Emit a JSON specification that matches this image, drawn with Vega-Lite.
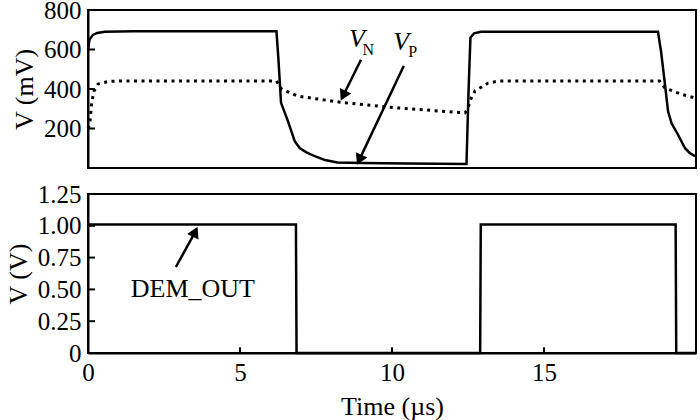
{
  "$schema": "https://vega.github.io/schema/vega-lite/v6.json",
  "padding": {"left": 4, "top": -3, "right": 0, "bottom": 0},
  "background": "white",
  "spacing": 26,
  "bounds": "flush",
  "config": {
    "view": {"stroke": "black", "strokeWidth": 2},
    "font": "Times New Roman",
    "axis": {
      "labelFont": "Times New Roman", "labelFontSize": 25, "labelColor": "black",
      "titleFont": "Times New Roman", "titleFontSize": 26, "titleFontWeight": "normal", "titleColor": "black",
      "ticks": false, "labelPadding": 7, "labelOverlap": false,
      "domainColor": "black", "domainWidth": 2, "grid": false
    }
  },
  "datasets": {
    "vp": [
      {"t": 0, "v": 600}, {"t": 0.05, "v": 650}, {"t": 0.16, "v": 674}, {"t": 0.3, "v": 684}, {"t": 0.55, "v": 690},
      {"t": 1.5, "v": 692}, {"t": 6.2, "v": 692}, {"t": 6.26, "v": 560}, {"t": 6.35, "v": 330}, {"t": 6.58, "v": 236},
      {"t": 6.8, "v": 136}, {"t": 6.97, "v": 100}, {"t": 7.2, "v": 78}, {"t": 7.46, "v": 60}, {"t": 7.8, "v": 40},
      {"t": 8.2, "v": 28}, {"t": 9, "v": 25}, {"t": 10.5, "v": 23}, {"t": 12.45, "v": 20}, {"t": 12.52, "v": 400},
      {"t": 12.58, "v": 660}, {"t": 12.7, "v": 682}, {"t": 12.93, "v": 690}, {"t": 18.75, "v": 690}, {"t": 18.85, "v": 590},
      {"t": 18.98, "v": 422}, {"t": 19.08, "v": 287}, {"t": 19.2, "v": 225}, {"t": 19.4, "v": 171}, {"t": 19.64, "v": 100},
      {"t": 19.8, "v": 75}, {"t": 19.97, "v": 60}
    ],
    "vn": [
      {"t": 0, "v": 200}, {"t": 0.06, "v": 221}, {"t": 0.12, "v": 330}, {"t": 0.2, "v": 390}, {"t": 0.33, "v": 425},
      {"t": 0.66, "v": 438}, {"t": 1.2, "v": 441}, {"t": 6.2, "v": 441}, {"t": 6.36, "v": 400}, {"t": 6.9, "v": 364},
      {"t": 7.57, "v": 349}, {"t": 8.45, "v": 330}, {"t": 10.2, "v": 304}, {"t": 12.4, "v": 279}, {"t": 12.5, "v": 300},
      {"t": 12.56, "v": 340}, {"t": 12.73, "v": 390}, {"t": 13.16, "v": 430}, {"t": 13.5, "v": 440}, {"t": 18.8, "v": 440},
      {"t": 18.98, "v": 405}, {"t": 19.5, "v": 374}, {"t": 19.97, "v": 355}
    ],
    "dem": [
      {"t": 0, "v": 1.01}, {"t": 6.84, "v": 1.01}, {"t": 6.86, "v": 0}, {"t": 12.9, "v": 0}, {"t": 12.92, "v": 1.01},
      {"t": 19.33, "v": 1.01}, {"t": 19.35, "v": 0}, {"t": 20, "v": 0}
    ],
    "arrowsTop": [
      {"x1": 8.98, "y1": 548, "x2": 8.42, "y2": 375, "ang": 206},
      {"x1": 10.39, "y1": 518, "x2": 8.95, "y2": 50, "ang": 205}
    ],
    "labelsTop": [
      {"t": 8.85, "v": 652, "txt": "V", "kind": "main"},
      {"t": 9.22, "v": 598, "txt": "N", "kind": "sub"},
      {"t": 10.3, "v": 640, "txt": "V", "kind": "main"},
      {"t": 10.68, "v": 588, "txt": "P", "kind": "sub"}
    ],
    "ticksTopY": [{"v": 200}, {"v": 400}, {"v": 600}],
    "ticksBotY": [{"v": 0.25}, {"v": 0.5}, {"v": 0.75}, {"v": 1.0}],
    "ticksBotX": [{"t": 5}, {"t": 10}, {"t": 15}],
    "arrowsBot": [
      {"x1": 2.89, "y1": 0.676, "x2": 3.5, "y2": 0.94, "ang": 26}
    ],
    "labelsBot": [
      {"t": 3.45, "v": 0.5, "txt": "DEM_OUT"}
    ]
  },
  "vconcat": [
    {
      "width": 608,
      "height": 158,
      "layer": [
        {
          "data": {"name": "vp"},
          "mark": {"type": "line", "color": "black", "strokeWidth": 2.5},
          "encoding": {
            "x": {"field": "t", "type": "quantitative", "scale": {"domain": [0, 20], "nice": false}, "axis": null},
            "y": {"field": "v", "type": "quantitative", "scale": {"domain": [0, 800], "nice": false},
                  "axis": {"values": [200, 400, 600, 800], "tickCount": 10, "title": "V (mV)", "titlePadding": 6, "labelOverlap": false}}
          }
        },
        {
          "data": {"name": "vn"},
          "mark": {"type": "line", "color": "black", "strokeWidth": 3, "strokeDash": [3, 4.5]},
          "encoding": {
            "x": {"field": "t", "type": "quantitative"},
            "y": {"field": "v", "type": "quantitative"}
          }
        },
        {
          "data": {"name": "ticksTopY"},
          "mark": {"type": "rule", "color": "black", "strokeWidth": 2},
          "encoding": {
            "x": {"datum": 0, "type": "quantitative"},
            "x2": {"datum": 0.23},
            "y": {"field": "v", "type": "quantitative"}
          }
        },
        {
          "data": {"name": "arrowsTop"},
          "mark": {"type": "rule", "color": "black", "strokeWidth": 2.5},
          "encoding": {
            "x": {"field": "x1", "type": "quantitative"},
            "y": {"field": "y1", "type": "quantitative"},
            "x2": {"field": "x2"},
            "y2": {"field": "y2"}
          }
        },
        {
          "data": {"name": "arrowsTop"},
          "mark": {"type": "point", "shape": "triangle", "filled": true, "color": "black", "opacity": 1, "size": 160},
          "encoding": {
            "x": {"field": "x2", "type": "quantitative"},
            "y": {"field": "y2", "type": "quantitative"},
            "angle": {"field": "ang", "type": "quantitative", "scale": null}
          }
        },
        {
          "data": {"name": "labelsTop"},
          "transform": [{"filter": "datum.kind == 'main'"}],
          "mark": {"type": "text", "font": "Times New Roman", "fontSize": 26, "fontStyle": "italic", "color": "black"},
          "encoding": {
            "x": {"field": "t", "type": "quantitative"},
            "y": {"field": "v", "type": "quantitative"},
            "text": {"field": "txt"}
          }
        },
        {
          "data": {"name": "labelsTop"},
          "transform": [{"filter": "datum.kind == 'sub'"}],
          "mark": {"type": "text", "font": "Times New Roman", "fontSize": 16, "color": "black"},
          "encoding": {
            "x": {"field": "t", "type": "quantitative"},
            "y": {"field": "v", "type": "quantitative"},
            "text": {"field": "txt"}
          }
        }
      ]
    },
    {
      "width": 608,
      "height": 159,
      "layer": [
        {
          "data": {"name": "dem"},
          "mark": {"type": "line", "color": "black", "strokeWidth": 2.5},
          "encoding": {
            "x": {"field": "t", "type": "quantitative", "scale": {"domain": [0, 20], "nice": false},
                  "axis": {"values": [0, 5, 10, 15], "tickCount": 10, "labelFlush": false, "title": "Time (µs)", "titlePadding": 8}},
            "y": {"field": "v", "type": "quantitative", "scale": {"domain": [0, 1.25], "nice": false},
                  "axis": {"values": [0, 0.25, 0.5, 0.75, 1, 1.25], "tickCount": 10, "title": "V (V)", "titlePadding": 6, "labelOverlap": false,
                           "labelExpr": "datum.value == 0 ? '0' : format(datum.value, '.2f')"}}
          }
        },
        {
          "data": {"name": "ticksBotY"},
          "mark": {"type": "rule", "color": "black", "strokeWidth": 2},
          "encoding": {
            "x": {"datum": 0, "type": "quantitative"},
            "x2": {"datum": 0.23},
            "y": {"field": "v", "type": "quantitative"}
          }
        },
        {
          "data": {"name": "ticksBotX"},
          "mark": {"type": "rule", "color": "black", "strokeWidth": 2},
          "encoding": {
            "x": {"field": "t", "type": "quantitative"},
            "y": {"datum": 0, "type": "quantitative"},
            "y2": {"datum": 0.045}
          }
        },
        {
          "data": {"name": "arrowsBot"},
          "mark": {"type": "rule", "color": "black", "strokeWidth": 2.5},
          "encoding": {
            "x": {"field": "x1", "type": "quantitative"},
            "y": {"field": "y1", "type": "quantitative"},
            "x2": {"field": "x2"},
            "y2": {"field": "y2"}
          }
        },
        {
          "data": {"name": "arrowsBot"},
          "mark": {"type": "point", "shape": "triangle", "filled": true, "color": "black", "opacity": 1, "size": 160},
          "encoding": {
            "x": {"field": "x2", "type": "quantitative"},
            "y": {"field": "y2", "type": "quantitative"},
            "angle": {"field": "ang", "type": "quantitative", "scale": null}
          }
        },
        {
          "data": {"name": "labelsBot"},
          "mark": {"type": "text", "font": "Times New Roman", "fontSize": 26, "color": "black"},
          "encoding": {
            "x": {"field": "t", "type": "quantitative"},
            "y": {"field": "v", "type": "quantitative"},
            "text": {"field": "txt"}
          }
        }
      ]
    }
  ]
}
